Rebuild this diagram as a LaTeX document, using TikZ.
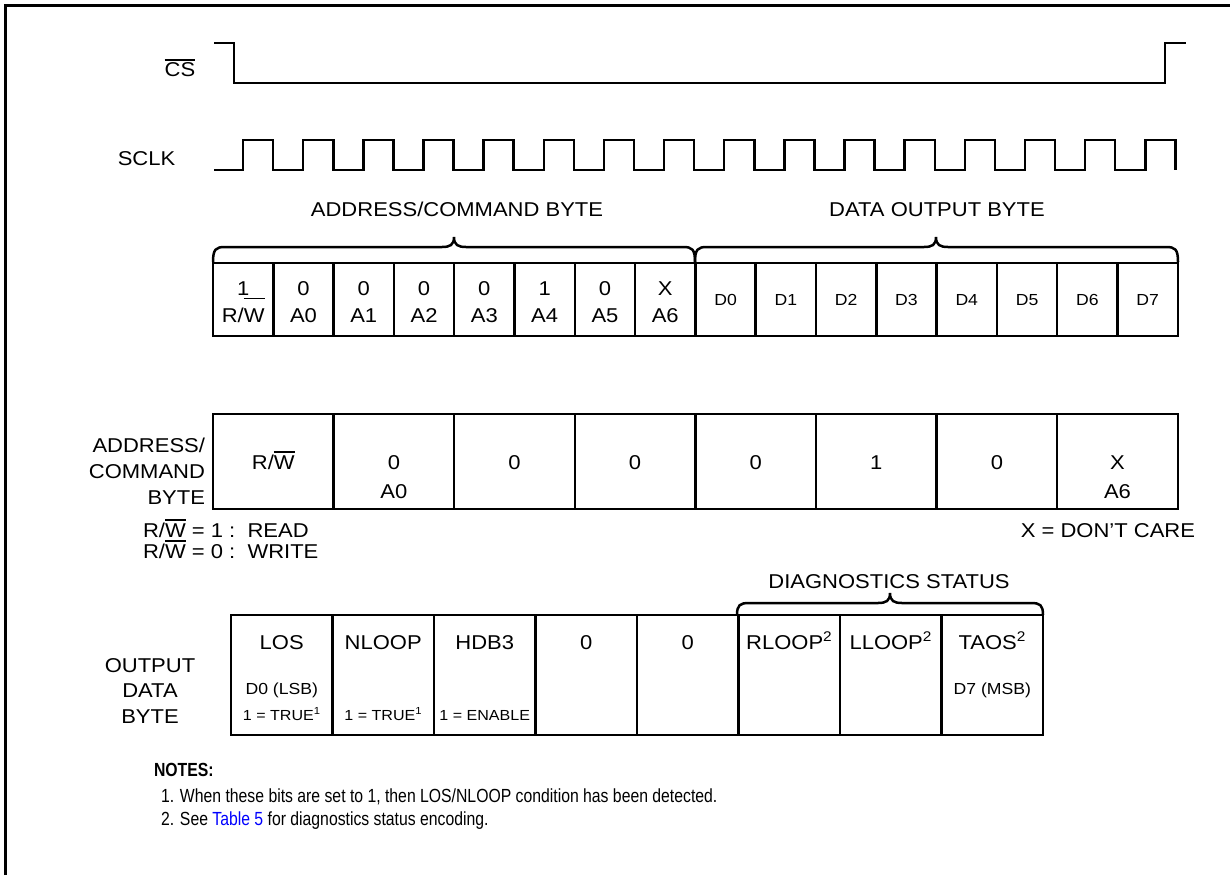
\documentclass[tikz,border=0pt]{standalone}
\usepackage{fontspec}
\setmainfont{Liberation Sans}[FakeStretch=1.1]
\newfontfamily\notesfont{Liberation Sans}[FakeStretch=0.83]
\definecolor{linkblue}{RGB}{0,0,255}
\newcommand{\ovl}[2][2.5pt]{\setbox0\hbox{#2}\rlap{\raisebox{\dimexpr\ht0+#1\relax}{\rule{\wd0}{1.6pt}}}\box0}
\newcommand{\RW}{R/\ovl{W}}
\newcommand{\fMain}{\fontsize{20pt}{23pt}\selectfont}
\newcommand{\fData}{\fontsize{16pt}{19pt}\selectfont}
\newcommand{\fSmall}{\fontsize{14.6pt}{17pt}\selectfont}
\newcommand{\fNote}{\notesfont\fontsize{19pt}{23pt}\selectfont}
\begin{document}
\begin{tikzpicture}[x=1pt,y=-1pt,line join=miter,
  sig/.style={line width=2.5pt},
  frameline/.style={line width=3pt},
  brc/.style={line width=2.5pt},
  cellbox/.style={draw,line width=2.5pt,inner sep=0pt,outer sep=0pt},
  txt/.style={inner sep=0pt,outer sep=0pt,font=\fMain,anchor=base},
  dtxt/.style={txt,font=\fData},
  stxt/.style={txt,font=\fSmall},
  ntxt/.style={inner sep=0pt,outer sep=0pt,font=\fNote,anchor=base west}]
\useasboundingbox (0,0) rectangle (1230,875);
% frame
\draw[frameline] (5,875) -- (5,6) -- (1230,6);
% CS
\node[txt] (cslbl) at (180,77) {\ovl{CS}};
\draw[sig] (214,43) -- (234,43) -- (234,83) -- (1165,83) -- (1165,43) -- (1186,43);
% SCLK
\node[txt] (sclklbl) at (146.5,165) {SCLK};
\draw[sig] (214,170) foreach \k in {0,...,15} { -- ({243+60.15*\k},170) -- ({243+60.15*\k},140) -- ({273.1+60.15*\k},140) -- ({273.1+60.15*\k},170) };
% row 1 headings and braces
\node[txt] (acbyte) at (457,216) {ADDRESS/COMMAND BYTE};
\node[txt] (dobyte) at (937,216) {DATA OUTPUT BYTE};
\draw[brc] (213,262) .. controls (213,249) and (216,247) .. (225,247) -- (442,247)
  .. controls (450,247) and (454,245) .. (454,237) .. controls (454,245) and (458,247) .. (466,247)
  -- (683,247) .. controls (692,247) and (695,249) .. (695,262);
\draw[brc] (695,262) .. controls (695,249) and (698,247) .. (707,247) -- (924,247)
  .. controls (932,247) and (936,245) .. (936,237) .. controls (936,245) and (940,247) .. (948,247)
  -- (1166,247) .. controls (1175,247) and (1178,249) .. (1178,262);
% row 1 cells
\foreach \i in {0,...,15}
  \node[cellbox,minimum width=60.3pt,minimum height=73pt] (r\i) at ({213+60.3*(\i+0.5)},299.5) {};
\node[txt] (r0v) at (243.15,295.2) {1};
\node[txt] (r0l) at (243.15,322.2) {R/\ovl[9pt]{W}};
\foreach \i/\v in {1/0,2/0,3/0,4/0,5/1,6/0,7/X} {
  \node[txt] (r\i v) at ({213+60.3*(\i+0.5)},295.2) {\v};
  \node[txt] (r\i l) at ({213+60.3*(\i+0.5)},322.2) {A\the\numexpr\i-1\relax};
}
\foreach \i in {0,...,7}
  \node[dtxt] (d\i) at ({213+60.3*(\i+8.5)},305.7) {D\i};
% middle row
\node[txt,anchor=base east] (ml1) at (205,452) {ADDRESS/};
\node[txt,anchor=base east] (ml2) at (205,478) {COMMAND};
\node[txt,anchor=base east] (ml3) at (205,504) {BYTE};
\foreach \i in {0,...,7}
  \node[cellbox,minimum width=120.6pt,minimum height=95pt] (m\i) at ({213+120.6*(\i+0.5)},461.5) {};
\node[txt] (m0v) at (273.3,469.2) {\RW};
\foreach \i/\v in {1/0,2/0,3/0,4/0,5/1,6/0,7/X}
  \node[txt] (m\i v) at ({213+120.6*(\i+0.5)},469.2) {\v};
\node[txt] (m1l) at (393.9,498) {A0};
\node[txt] (m7l) at (1117.5,498) {A6};
\node[txt,anchor=base west] (rw1) at (143,537) {\RW{} = 1 :\ \ READ};
\node[txt,anchor=base west] (rw0) at (143,558) {\RW{} = 0 :\ \ WRITE};
\node[txt,anchor=base east] (dc) at (1195,537) {X = DON’T CARE};
% bottom row
\node[txt] (diag) at (889,588) {DIAGNOSTICS STATUS};
\draw[brc] (737,615) .. controls (737,605) and (740,603) .. (749,603) -- (878,603)
  .. controls (886,603) and (890,601) .. (890,593) .. controls (890,601) and (894,603) .. (902,603)
  -- (1031,603) .. controls (1040,603) and (1043,605) .. (1043,615);
\node[txt] (ol1) at (150,672) {OUTPUT};
\node[txt] (ol2) at (150,697) {DATA};
\node[txt] (ol3) at (150,723) {BYTE};
\foreach \i in {0,...,7}
  \node[cellbox,minimum width=101.5pt,minimum height=120pt] (b\i) at ({231+101.5*(\i+0.5)},675) {};
\foreach \i/\t in {0/LOS,1/NLOOP,2/HDB3,3/0,4/0,5/RLOOP\textsuperscript{2},6/LLOOP\textsuperscript{2},7/TAOS\textsuperscript{2}}
  \node[txt] (b\i t) at ({231+101.5*(\i+0.5)},649) {\t};
\node[dtxt] (b0m) at (281.75,694) {D0 (LSB)};
\node[dtxt] (b7m) at (992.25,694) {D7 (MSB)};
\node[stxt] (b0b) at (281.75,720.2) {1 = TRUE\textsuperscript{1}};
\node[stxt] (b1b) at (383.25,720.2) {1 = TRUE\textsuperscript{1}};
\node[stxt] (b2b) at (484.75,720.2) {1 = ENABLE};
% notes
\node[ntxt] (notes) at (154,776) {\bfseries NOTES:};
\node[ntxt] (n1) at (161,802) {1. When these bits are set to 1, then LOS/NLOOP condition has been detected.};
\node[ntxt] (n2) at (161,825) {2. See \textcolor{linkblue}{Table 5} for diagnostics status encoding.};
\end{tikzpicture}
\end{document}
